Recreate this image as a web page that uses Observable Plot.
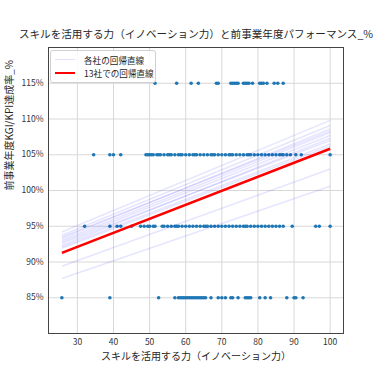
<!DOCTYPE html>
<html>
<head>
<meta charset="utf-8">
<script src="https://cdn.jsdelivr.net/npm/d3@7"></script>
<script src="https://cdn.jsdelivr.net/npm/@observablehq/plot@0.6"></script>
<style>
  html, body { margin: 0; padding: 0; background: #fff; }
  #wrap { position: relative; width: 381px; height: 381px; font-family: "Noto Sans CJK JP", "Noto Sans", sans-serif; }
  #legend { position: absolute; left: 50px; top: 50px; width: 104px; padding: 2px 0 3px 0; background: rgba(255,255,255,0.85); border: 1px solid #d0d0d0; border-radius: 3px; font-size: 8.6px; color: #262626; }
  .row { display: flex; align-items: center; height: 13px; }
  .sw { width: 20px; margin-left: 4px; margin-right: 9px; }
</style>
</head>
<body>
<div id="wrap"></div>
<script>
// ---- data ----
const titleText = "スキルを活用する力（イノベーション力）と前事業年度パフォーマンス_%";
const xLabel = "スキルを活用する力（イノベーション力）";
const yLabel = "前事業年度KGI/KPI達成率_%";
const legendLabels = ["各社の回帰直線", "13社での回帰直線"];
const xTicks = [30, 40, 50, 60, 70, 80, 90, 100];
const yTicks = [85, 90, 95, 100, 105, 110, 115];

// scores (x) of respondents at each performance level (y)
const x115 = [51.5, 57.5, 61.5, 63.5, 68.5, 69, 72.5, 73, 73.5, 74, 74.5, 76, 76.5, 77, 77.5, 78.5, 80.5, 81, 81.5, 82.5, 84.5, 85.5, 87];
const x105 = [34.5, 39, 40, 42, 49, 49.5, 50, 50.5, 51, 52, 52.5, 53, 54, 55, 55.5, 56, 57, 58, 58.5, 59, 60, 61, 62, 62.5, 63, 64, 65, 66, 67, 67.5, 68, 69, 70, 71, 72, 72.5, 73, 74, 75, 76, 77, 77.5, 78, 79, 80, 81, 82, 83, 84, 85, 86, 86.5, 87, 88, 89, 90.5, 92, 100];
const x95 = [32, 39, 41, 42, 45, 47.5, 48.5, 49.5, 50, 51, 51.5, 53.5, 54, 55, 56, 57, 57.5, 58, 59, 60, 61, 62, 63, 64, 65, 65.5, 66, 67, 68, 69, 70, 71, 72, 73, 74, 75, 76, 76.5, 77, 78, 79, 80, 81, 82, 83, 84, 85, 86, 87, 89.5, 96, 97, 100];
const x85 = [25.7, 39, 52.5, 57, 58, 58.5, 59, 59.5, 60, 60.5, 61, 61.5, 62, 62.5, 63, 63.5, 64, 64.5, 65, 65.5, 67, 69, 70, 71, 72.5, 73, 74.5, 76.5, 77, 77.5, 78, 80.5, 82, 83.5, 88, 90, 90.5, 92.5];
const yLevels = [115, 105, 95, 85];

// regression lines: x extent and fitted y at both ends
const lineX = [25.7, 100];
const companyStartY = [94.2, 93.75, 93.3, 93.05, 92.8, 92.6, 92.1, 91.9, 93.5, 92.3, 89.4, 87.7];
const companyEndY   = [109.8, 109.1, 108.6, 108.1, 107.7, 107.0, 106.5, 106.2, 108.3, 107.3, 103.0, 100.6];
const overallY = [91.28, 105.85];

// ---- build tables ----
const points = [];
[x115, x105, x95, x85].forEach((xs, i) => xs.forEach(x => points.push({x, y: yLevels[i]})));
const companyLines = companyStartY.map((y1, i) => ({x1: lineX[0], y1, x2: lineX[1], y2: companyEndY[i]}));
const overallLine = [{x1: lineX[0], y1: overallY[0], x2: lineX[1], y2: overallY[1]}];

const font = "Noto Sans CJK JP";
const chart = Plot.plot({
  width: 381,
  height: 381,
  marginTop: 47,
  marginBottom: 48,
  marginLeft: 48,
  marginRight: 38,
  style: {fontFamily: font, fontSize: "8.5px", color: "#333", background: "#fff"},
  x: {domain: [22, 103.7]},
  y: {domain: [80, 120]},
  marks: [
    Plot.gridX(xTicks, {stroke: "#d8d8d8", strokeOpacity: 1, strokeWidth: 1}),
    Plot.gridY(yTicks, {stroke: "#d8d8d8", strokeOpacity: 1, strokeWidth: 1}),
    Plot.axisX({ticks: xTicks, tickSize: 0, tickPadding: 5, label: null}),
    Plot.axisY({ticks: yTicks, tickSize: 0, tickPadding: 5, tickFormat: d => d + "%", label: null}),
    Plot.dot(points, {x: "x", y: "y", r: 1.8, fill: "#1f77b4", stroke: "none"}),
    Plot.link(companyLines, {x1: "x1", y1: "y1", x2: "x2", y2: "y2", stroke: "blue", strokeOpacity: 0.1, strokeWidth: 1.5}),
    Plot.link(overallLine, {x1: "x1", y1: "y1", x2: "x2", y2: "y2", stroke: "red", strokeWidth: 2.6}),
    Plot.frame({stroke: "#444", strokeWidth: 1}),
    Plot.text([titleText], {frameAnchor: "top", dy: -10, fontSize: 10.6, fill: "#262626", text: d => d, lineAnchor: "bottom"}),
    Plot.text([xLabel], {frameAnchor: "bottom", dy: 19, fontSize: 10, fill: "#262626", text: d => d, lineAnchor: "top"}),
    Plot.text([yLabel], {frameAnchor: "left", dx: -36, rotate: -90, fontSize: 10, fill: "#262626", text: d => d, lineAnchor: "bottom"})
  ]
});
const wrap = document.getElementById("wrap");
wrap.appendChild(chart);

const legend = document.createElement("div");
legend.id = "legend";
legend.innerHTML =
  `<div class="row"><div class="sw" style="border-top:1.5px solid rgba(0,0,255,0.12)"></div><span>${legendLabels[0]}</span></div>` +
  `<div class="row"><div class="sw" style="border-top:2.6px solid red"></div><span>${legendLabels[1]}</span></div>`;
wrap.appendChild(legend);
</script>
</body>
</html>
